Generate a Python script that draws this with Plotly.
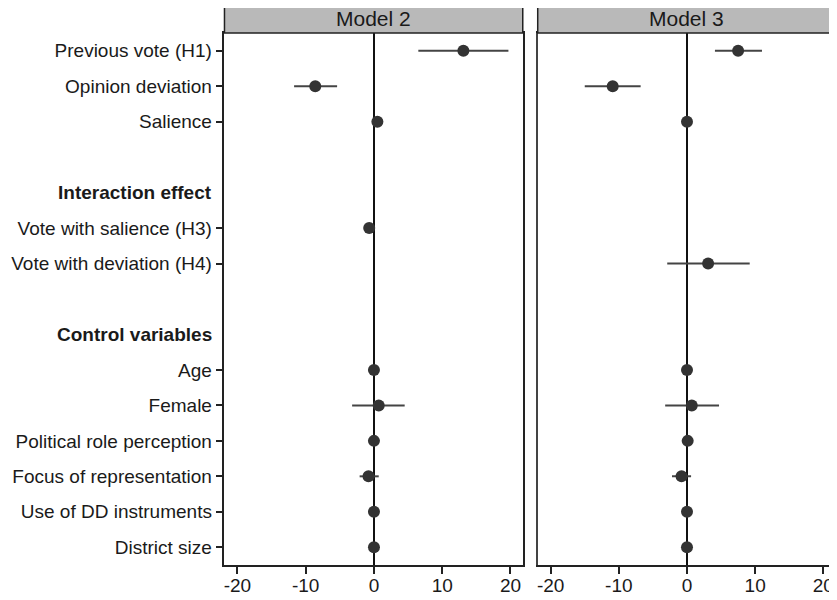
import plotly.graph_objects as go

# ---- data ----
row_labels = [
    "Previous vote (H1)", "Opinion deviation", "Salience", "",
    "Interaction effect", "Vote with salience (H3)", "Vote with deviation (H4)", "",
    "Control variables", "Age", "Female", "Political role perception",
    "Focus of representation", "Use of DD instruments", "District size",
]
section_headers = ["Interaction effect", "Control variables"]
variables = [
    "Previous vote (H1)", "Opinion deviation", "Salience",
    "Vote with salience (H3)", "Vote with deviation (H4)",
    "Age", "Female", "Political role perception",
    "Focus of representation", "Use of DD instruments", "District size",
]
model_names = ["Model 2", "Model 3"]

m2_est = [13.1, -8.6, 0.5, -0.7, None, 0.0, 0.7, 0.0, -0.8, 0.0, 0.0]
m2_lo  = [6.5, -11.7, 0.3, -1.3, None, -0.1, -3.2, -0.4, -2.1, -0.1, -0.1]
m2_hi  = [19.7, -5.4, 0.7, -0.1, None, 0.1, 4.5, 0.5, 0.7, 0.1, 0.1]

m3_est = [7.5, -10.9, 0.0, None, 3.1, 0.0, 0.7, 0.1, -0.8, 0.0, 0.0]
m3_lo  = [4.1, -15.0, -0.2, None, -2.9, -0.1, -3.2, -0.4, -2.2, -0.1, -0.1]
m3_hi  = [11.0, -6.8, 0.2, None, 9.2, 0.1, 4.7, 0.5, 0.6, 0.1, 0.1]

x_ticks = [-20, -10, 0, 10, 20]
x_tick_labels = ["-20", "-10", "0", "10", "20"]

# ---- figure ----
OFF = 8  # page body margin
W, H = 837 - OFF, 600 - OFF
FONT = "Liberation Sans, Arial, sans-serif"
ypos = {lab: i for i, lab in enumerate(row_labels) if lab}


def px(x):
    return (x - OFF) / W


def py(y):
    return 1 - (y - OFF) / H


fig = go.Figure()
models = [(m2_est, m2_lo, m2_hi), (m3_est, m3_lo, m3_hi)]
for k, (est, lo, hi) in enumerate(models):
    xs, ys, plus, minus = [], [], [], []
    for v, e, l, h in zip(variables, est, lo, hi):
        if e is None:
            continue
        xs.append(e)
        ys.append(ypos[v])
        plus.append(h - e)
        minus.append(e - l)
    fig.add_trace(go.Scatter(
        x=xs, y=ys, mode="markers",
        marker=dict(size=12, color="#333333"),
        error_x=dict(type="data", array=plus, arrayminus=minus, symmetric=False,
                     width=0, thickness=2, color="#444444"),
        xaxis="x" if k == 0 else "x2", yaxis="y" if k == 0 else "y2",
        showlegend=False, hoverinfo="skip",
    ))

dom1 = [px(224), px(523)]
dom2 = [px(538), 0.9995]
ydom = [py(565), py(33)]

xcommon = dict(range=[-21.9, 21.8], tickvals=x_ticks, ticktext=x_tick_labels,
               ticks="outside", ticklen=7,
               tickwidth=1.5, tickcolor="#222", showline=True, linecolor="#222",
               linewidth=1.5, mirror=True, showgrid=False, zeroline=True,
               zerolinecolor="#111", zerolinewidth=2, ticklabelstandoff=-5,
               tickfont=dict(family=FONT, size=19, color="#1a1a1a"))
tick_rows = [ypos[v] for v in variables]
fig.update_layout(
    width=W, height=H, margin=dict(l=0, r=0, t=0, b=0),
    plot_bgcolor="white", paper_bgcolor="white",
    xaxis=dict(domain=dom1, anchor="y", **xcommon),
    xaxis2=dict(domain=dom2, anchor="y2", **xcommon),
    yaxis=dict(domain=ydom, anchor="x", range=[14.5, -0.5], tickvals=tick_rows,
               ticktext=variables, ticks="outside", ticklen=7, tickwidth=1.5,
               tickcolor="#222", showline=True, linecolor="#222", linewidth=1.5,
               mirror=True, showgrid=False, zeroline=False,
               tickfont=dict(family=FONT, size=19, color="#1a1a1a")),
    yaxis2=dict(domain=ydom, anchor="x2", range=[14.5, -0.5], showticklabels=False,
                ticks="", showline=True, linecolor="#444", linewidth=1.5,
                mirror=True, showgrid=False, zeroline=False),
)

# section headers
for hdr in section_headers:
    fig.add_annotation(x=px(213), xref="paper", y=ypos[hdr], yref="y",
                       text=f"<b>{hdr}</b>", showarrow=False, xanchor="right",
                       yanchor="middle",
                       font=dict(family=FONT, size=19, color="#1a1a1a"))

# panel header strips
for dom, name in zip([dom1, dom2], model_names):
    fig.add_shape(type="rect", xref="paper", yref="paper",
                  x0=dom[0], x1=dom[1], y0=py(33), y1=py(5),
                  fillcolor="#b9b9b9", line=dict(color="#222", width=1.5))
    fig.add_annotation(x=(dom[0] + dom[1]) / 2, y=py(19), xref="paper",
                       yref="paper", text=name, showarrow=False,
                       xanchor="center", yanchor="middle",
                       font=dict(family=FONT, size=21, color="#1a1a1a"))

fig.write_html("out.html")
